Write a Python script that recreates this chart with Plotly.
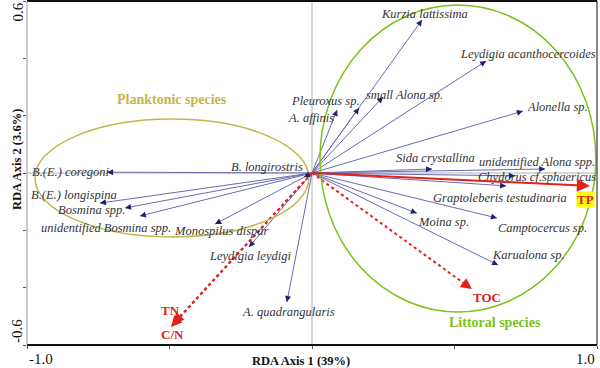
import math
import plotly.graph_objects as go

# ---- species arrow tips (RDA axis 1, axis 2) ----
species = ["Kurzia lattissima", "Leydigia acanthocercoides", "Alonella sp.", "small Alona sp.",
           "Pleuroxus sp.", "A. affinis", "B.(E.) coregoni", "B.(E.) longispina", "Bosmina spp.",
           "unidentified Bosmina spp.", "Monospilus dispar", "B. longirostris", "Leydigia leydigi",
           "A. quadrangularis", "Sida crystallina", "unidentified Alona spp.", "Chydorus cf.sphaericus",
           "Graptoleberis testudinaria", "Camptocercus sp.", "Moina sp.", "Karualona sp."]
sp_x = [0.386, 0.611, 0.740, 0.249, 0.165, 0.088, -0.719, -0.744, -0.656, -0.604, -0.340, -0.028,
        -0.221, -0.088, 0.421, 0.818, 0.712, 0.681, 0.649, 0.368, 0.653]
sp_y = [0.534, 0.391, 0.216, 0.265, 0.227, 0.220, 0.003, -0.105, -0.122, -0.150, -0.178, -0.014,
        -0.258, -0.450, 0.014, 0.014, -0.010, -0.045, -0.157, -0.140, -0.321]
# label anchor positions
lab_x = [0.393, 0.758, 0.860, 0.323, 0.046, -0.004, -0.849, -0.835, -0.775, -0.722, -0.318, -0.158,
         -0.218, -0.081, 0.432, 0.789, 0.789, 0.660, 0.807, 0.460, 0.758]
lab_y = [0.555, 0.415, 0.230, 0.272, 0.251, 0.192, 0.003, -0.077, -0.129, -0.192, -0.202, 0.021,
         -0.290, -0.485, 0.052, 0.038, -0.014, -0.087, -0.192, -0.171, -0.286]

# ---- environmental variables ----
env = ["TP", "TOC", "TN", "C/N"]
env_x = [0.975, 0.561, -0.488, -0.495]
env_y = [-0.045, -0.405, -0.527, -0.537]
env_dash = ["solid", "dot", "dot", "dot"]
env_lab_x = [0.958, 0.614, -0.498, -0.491]
env_lab_y = [-0.091, -0.436, -0.478, -0.562]

# ---- group ellipses (x0, x1, y0, y1) ----
groups = ["Planktonic species", "Littoral species"]
ell_x0 = [-0.972, 0.028]
ell_x1 = [-0.011, 0.996]
ell_y0 = [-0.223, -0.485]
ell_y1 = [0.188, 0.586]
grp_lab_x = [-0.491, 0.642]
grp_lab_y = [0.255, -0.523]
grp_col = ["#c4b54a", "#7cc21a"]

SERIF = "Liberation Serif, Times New Roman, serif"
RED = "#e3211b"
LINE_BLUE = "#6a6ab4"
HEAD_BLUE = "#1f1f78"

fig = go.Figure()
annotations = []
shapes = []

# zero lines
shapes.append(dict(type="line", x0=0, x1=0, y0=-0.6, y1=0.6, xref="x", yref="y",
                   line=dict(color="#b0b0b0", width=1), layer="below"))
shapes.append(dict(type="line", x0=-1, x1=1, y0=0, y1=0, xref="x", yref="y",
                   line=dict(color="#b0b0b0", width=1), layer="below"))

# ellipses
for i, g in enumerate(groups):
    shapes.append(dict(type="circle", xref="x", yref="y", x0=ell_x0[i], x1=ell_x1[i],
                       y0=ell_y0[i], y1=ell_y1[i], line=dict(color=grp_col[i], width=1.5)))
    annotations.append(dict(x=grp_lab_x[i], y=grp_lab_y[i], xref="x", yref="y", showarrow=False,
                            text="<b>" + g + "</b>", font=dict(family=SERIF, size=14, color=grp_col[i])))


def head_tail(x, y, d):
    n = math.hypot(x, y)
    k = max(n - d, 0.0) / n
    return x * k, y * k


# species arrows
for i, s in enumerate(species):
    fig.add_trace(go.Scatter(x=[0, sp_x[i]], y=[0, sp_y[i]], mode="lines",
                             line=dict(color=LINE_BLUE, width=1), hoverinfo="skip", showlegend=False))
    tx, ty = head_tail(sp_x[i], sp_y[i], 0.02)
    annotations.append(dict(x=sp_x[i], y=sp_y[i], ax=tx, ay=ty, xref="x", yref="y", axref="x", ayref="y",
                            text="", showarrow=True, arrowhead=2, arrowsize=1.2, arrowwidth=1,
                            arrowcolor=HEAD_BLUE))
    annotations.append(dict(x=lab_x[i], y=lab_y[i], xref="x", yref="y", showarrow=False,
                            text="<i>" + s + "</i>", font=dict(family=SERIF, size=12.5, color="#333333")))

# environmental arrows
for i, e in enumerate(env):
    if env_dash[i] == "solid":
        annotations.append(dict(x=env_x[i], y=env_y[i], ax=0, ay=0, xref="x", yref="y", axref="x",
                                ayref="y", text="", showarrow=True, arrowhead=2, arrowsize=1.3,
                                arrowwidth=2, arrowcolor=RED))
    else:
        fig.add_trace(go.Scatter(x=[0, env_x[i]], y=[0, env_y[i]], mode="lines",
                                 line=dict(color=RED, width=2, dash="dot"), hoverinfo="skip",
                                 showlegend=False))
        tx, ty = head_tail(env_x[i], env_y[i], 0.04)
        annotations.append(dict(x=env_x[i], y=env_y[i], ax=tx, ay=ty,
                                xref="x", yref="y", axref="x", ayref="y", text="", showarrow=True,
                                arrowhead=2, arrowsize=1.1, arrowwidth=2, arrowcolor=RED))
    annotations.append(dict(x=env_lab_x[i], y=env_lab_y[i], xref="x", yref="y", showarrow=False,
                            text="<b>" + e + "</b>",
                            bgcolor="#ffff00" if e == "TP" else None, borderpad=0,
                            font=dict(family=SERIF, size=13, color=RED)))

# frame
shapes.append(dict(type="line", xref="paper", yref="paper", x0=0, x1=1, y0=1, y1=1,
                   line=dict(color="#111111", width=2)))
shapes.append(dict(type="line", xref="paper", yref="paper", x0=0, x1=1, y0=0, y1=0,
                   line=dict(color="#111111", width=2)))
shapes.append(dict(type="line", xref="paper", yref="paper", x0=1, x1=1, y0=0, y1=1,
                   line=dict(color="#111111", width=1)))
shapes.append(dict(type="line", xref="paper", yref="paper", x0=0, x1=0, y0=0, y1=1,
                   line=dict(color="#999999", width=1)))

# tick labels and axis titles
annotations += [
    dict(x=-1, y=0, xref="x", yref="paper", yshift=-4, xanchor="left", yanchor="top", showarrow=False,
         text="-1.0", font=dict(family=SERIF, size=15, color="#111")),
    dict(x=1, y=0, xref="x", yref="paper", yshift=-4, xanchor="right", yanchor="top", showarrow=False,
         text="1.0", font=dict(family=SERIF, size=15, color="#111")),
    dict(x=0, y=0.6, xref="paper", yref="y", xshift=-10, xanchor="center", yanchor="top",
         showarrow=False, textangle=-90, text="0.6", font=dict(family=SERIF, size=15, color="#111")),
    dict(x=0, y=-0.6, xref="paper", yref="y", xshift=-10, xanchor="center", yanchor="bottom",
         showarrow=False, textangle=-90, text="-0.6", font=dict(family=SERIF, size=15, color="#111")),
    dict(x=0.5, y=0, xref="paper", yref="paper", xshift=-11, yshift=-16, yanchor="middle",
         showarrow=False, text="<b>RDA Axis 1 (39%)</b>",
         font=dict(family=SERIF, size=12.5, color="#111")),
    dict(x=0, y=0.045, xref="paper", yref="y", xshift=-19, showarrow=False, textangle=-90,
         text="<b>RDA Axis 2 (3.6%)</b>", font=dict(family=SERIF, size=12.5, color="#111")),
]

fig.update_layout(
    width=600, height=368,
    margin=dict(l=27, r=3, t=1, b=23),
    paper_bgcolor="white", plot_bgcolor="white",
    showlegend=False,
    shapes=shapes, annotations=annotations,
    xaxis=dict(range=[-1, 1], showgrid=False, zeroline=False, showline=False,
               tickvals=[-1, -0.5, 0, 0.5, 1], ticks="outside", ticklen=3, tickcolor="#555",
               showticklabels=False),
    yaxis=dict(range=[-0.6, 0.6], showgrid=False, zeroline=False, showline=False,
               tickvals=[-0.6, -0.4, -0.2, 0, 0.2, 0.4, 0.6], ticks="outside", ticklen=3,
               tickcolor="#555", showticklabels=False),
)

fig.write_html("out.html", config={"displayModeBar": False},
               post_script="document.body.style.margin='0px';")
